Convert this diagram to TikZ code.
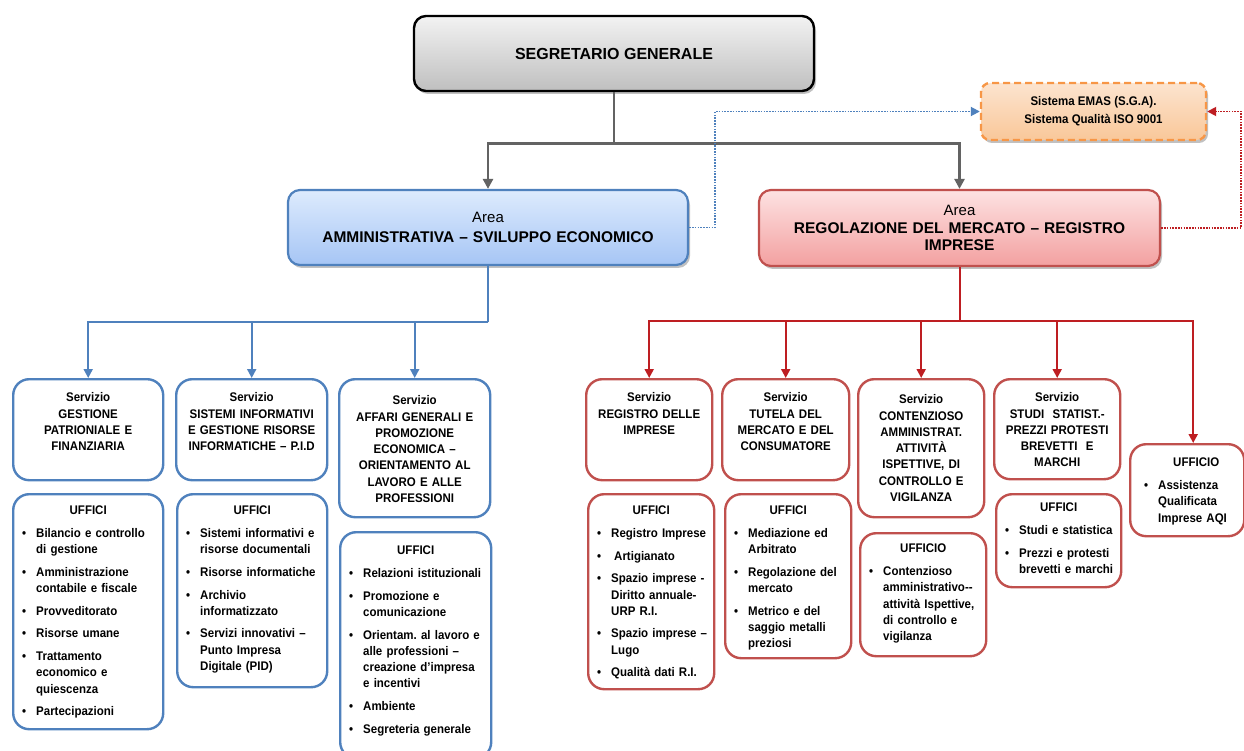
\documentclass[tikz,border=0pt]{standalone}
\usepackage{fontspec}
\setmainfont{Liberation Sans}
\newfontfamily\nrw[FakeStretch=0.92]{Liberation Sans}
\usepackage{enumitem}
\usetikzlibrary{arrows.meta,shadows,calc}
\frenchspacing
\definecolor{blueB}{HTML}{4F81BD}
\definecolor{redB}{HTML}{C0504D}
\definecolor{redA}{HTML}{BE1E22}
\definecolor{grayA}{HTML}{636363}
\definecolor{orB}{HTML}{F79646}
\newcommand{\ulist}[2]{{\centering\rule{0pt}{10pt}#1\par}%
\begin{itemize}[label=\textbullet,leftmargin=18pt,labelsep=10pt,topsep=6.5pt,itemsep=6.3pt,parsep=0pt,partopsep=0pt]#2\end{itemize}}
\tikzset{
  shd/.style={drop shadow={shadow xshift=2pt,shadow yshift=-3pt,opacity=0.35,fill=black!70}},
  sgbox/.style={draw=black,line width=2.4pt,rounded corners=12pt,top color=black!5,bottom color=black!25,shd,
    font={\bfseries\fontsize{16}{19}\selectfont},align=center},
  areaL/.style={draw=blueB,line width=2.2pt,rounded corners=12pt,top color={rgb,255:red,221;green,235;blue,253},
    bottom color={rgb,255:red,166;green,197;blue,245},shd,align=center,font={\fontsize{15}{19.5}\selectfont}},
  areaR/.style={draw=redB,line width=2.2pt,rounded corners=12pt,top color={rgb,255:red,253;green,226;blue,226},
    bottom color={rgb,255:red,243;green,160;blue,160},shd,align=center,font={\fontsize{15}{17.5}\selectfont}},
  emasbox/.style={draw=orB,line width=2.4pt,dash pattern=on 7pt off 4pt,rounded corners=9pt,
    top color={rgb,255:red,252;green,228;blue,207},bottom color={rgb,255:red,249;green,199;blue,153},shd,
    align=center,font={\nrw\bfseries\fontsize{12.5}{18}\selectfont}},
  bsv/.style={draw=blueB,line width=2.4pt,rounded corners=16pt,fill=white,anchor=north west,inner sep=0pt},
  rsv/.style={draw=redB,line width=2.4pt,rounded corners=16pt,fill=white,anchor=north west,inner sep=0pt},
  svtxt/.style={inner sep=0pt,anchor=north,align=center,font={\nrw\bfseries\fontsize{12.5}{16.3}\selectfont}},
  lstxt/.style={inner sep=0pt,anchor=north,align=left,font={\nrw\bfseries\fontsize{12.5}{16.3}\selectfont}},
  garrow/.style={draw=grayA,line width=2.8pt,-{Triangle[length=10pt,width=10pt]}},
  barrow/.style={draw=blueB,line width=2pt,-{Triangle[length=9pt,width=9pt]}},
  rarrow/.style={draw=redA,line width=2pt,-{Triangle[length=9pt,width=9pt]}},
  bline/.style={draw=blueB,line width=2pt},
  rline/.style={draw=redA,line width=2pt},
  bdot/.style={draw=blueB,line width=1.8pt,dash pattern=on 1.6pt off 1.2pt,-{Triangle[length=9pt,width=9pt]}},
  rdot/.style={draw=redA,line width=1.8pt,dash pattern=on 1.6pt off 1.2pt,-{Triangle[length=9pt,width=9pt]}},
}
\begin{document}
\begin{tikzpicture}[x=1pt,y=-1pt]
\useasboundingbox (0,0) rectangle (1244,751);
% top level
\node[sgbox,minimum width=400pt,minimum height=75pt] (sg) at (614,53.5) {SEGRETARIO GENERALE};
\node[emasbox,minimum width=225pt,minimum height=57pt] (emas) at (1093.5,111.5) {Sistema EMAS (S.G.A).\\Sistema Qualità ISO 9001};
\node[areaL,minimum width=400pt,minimum height=75pt,text width=390pt] (aa) at (488,227.5) {Area\\{\bfseries\fontsize{15.5}{19.5}\selectfont AMMINISTRATIVA – SVILUPPO ECONOMICO}};
\node[areaR,minimum width=401pt,minimum height=76pt,text width=390pt] (ar) at (959.5,228) {Area\\{\bfseries\fontsize{15.5}{17.5}\selectfont REGOLAZIONE DEL MERCATO – REGISTRO\\IMPRESE}};
% blue services
\node[bsv,minimum width=150pt,minimum height=101pt] (s1) at (12,378) {};
\node[bsv,minimum width=151pt,minimum height=101pt] (s2) at (175,378) {};
\node[bsv,minimum width=151pt,minimum height=138pt] (s3) at (338,378) {};
\node[svtxt,text width=146pt] (s1t) at ([yshift=-13.5pt]s1.north) {\rule{0pt}{10pt}Servizio\\GESTIONE\\PATRIONIALE E\\FINANZIARIA};
\node[svtxt,text width=147pt] (s2t) at ([yshift=-13.5pt]s2.north) {\rule{0pt}{10pt}Servizio\\SISTEMI INFORMATIVI\\E GESTIONE RISORSE\\INFORMATICHE – P.I.D};
\node[svtxt,text width=147pt] (s3t) at ([yshift=-16.5pt]s3.north) {\rule{0pt}{10pt}Servizio\\AFFARI GENERALI E\\PROMOZIONE\\ECONOMICA –\\ORIENTAMENTO AL\\LAVORO E ALLE\\PROFESSIONI};
% blue uffici
\node[bsv,minimum width=150pt,minimum height=235pt] (u1) at (12,493) {};
\node[bsv,minimum width=150pt,minimum height=193pt] (u2) at (176,493) {};
\node[bsv,minimum width=151pt,minimum height=226pt] (u3) at (339,531) {};
\node[lstxt,text width=140pt] (u1t) at ([yshift=-11.5pt]u1.north) {\ulist{UFFICI}{%
 \item Bilancio e controllo\\di gestione
 \item Amministrazione\\contabile e fiscale
 \item Provveditorato
 \item Risorse umane
 \item Trattamento\\economico e\\quiescenza
 \item Partecipazioni}};
\node[lstxt,text width=140pt] (u2t) at ([yshift=-11.5pt]u2.north) {\ulist{UFFICI}{%
 \item Sistemi informativi e\\risorse documentali
 \item Risorse informatiche
 \item Archivio\\informatizzato
 \item Servizi innovativi –\\Punto Impresa\\Digitale (PID)}};
\node[lstxt,text width=141pt] (u3t) at ([yshift=-13.5pt]u3.north) {\ulist{UFFICI}{%
 \item Relazioni istituzionali
 \item Promozione e\\comunicazione
 \item Orientam. al lavoro e\\alle professioni –\\creazione d’impresa\\e incentivi
 \item Ambiente
 \item Segreteria generale}};
% red services
\node[rsv,minimum width=126pt,minimum height=101pt] (r1) at (585,378) {};
\node[rsv,minimum width=127pt,minimum height=101pt] (r2) at (721,378) {};
\node[rsv,minimum width=126pt,minimum height=138pt] (r3) at (857,378) {};
\node[rsv,minimum width=126pt,minimum height=100pt] (r4) at (993,378) {};
\node[svtxt,text width=122pt] (r1t) at ([yshift=-13.5pt]r1.north) {\rule{0pt}{10pt}Servizio\\REGISTRO DELLE\\IMPRESE};
\node[svtxt,text width=123pt] (r2t) at ([yshift=-13.5pt]r2.north) {\rule{0pt}{10pt}Servizio\\TUTELA DEL\\MERCATO E DEL\\CONSUMATORE};
\node[svtxt,text width=122pt] (r3t) at ([yshift=-15.5pt]r3.north) {\rule{0pt}{10pt}Servizio\\CONTENZIOSO\\AMMINISTRAT.\\ATTIVITÀ\\ISPETTIVE, DI\\CONTROLLO E\\VIGILANZA};
\node[svtxt,text width=122pt] (r4t) at ([yshift=-13.5pt]r4.north) {\rule{0pt}{10pt}Servizio\\STUDI\ \ STATIST.-\\PREZZI PROTESTI\\BREVETTI\ \ E\\MARCHI};
% red uffici
\node[rsv,minimum width=126pt,minimum height=195pt] (ru1) at (587,493) {};
\node[rsv,minimum width=126pt,minimum height=164pt] (ru2) at (724,493) {};
\node[rsv,minimum width=126pt,minimum height=123pt] (ru3) at (859,532) {};
\node[rsv,minimum width=125pt,minimum height=93pt] (ru4) at (995,493) {};
\node[rsv,minimum width=114pt,minimum height=92pt] (ru5) at (1129,443) {};
\node[lstxt,text width=116pt] (ru1t) at ([yshift=-11.5pt]ru1.north) {\ulist{UFFICI}{%
 \item Registro Imprese
 \item \hspace{3pt}Artigianato
 \item Spazio imprese -\\Diritto annuale-\\URP R.I.
 \item Spazio imprese –\\Lugo
 \item Qualità dati R.I.}};
\node[lstxt,text width=116pt] (ru2t) at ([yshift=-11.5pt]ru2.north) {\ulist{UFFICI}{%
 \item Mediazione ed\\Arbitrato
 \item Regolazione del\\mercato
 \item Metrico e del\\saggio metalli\\preziosi}};
\node[lstxt,text width=116pt] (ru3t) at ([yshift=-10.5pt]ru3.north) {\ulist{UFFICIO}{%
 \item Contenzioso\\amministrativo-{}-\\attività Ispettive,\\di controllo e\\vigilanza}};
\node[lstxt,text width=115pt] (ru4t) at ([yshift=-8.5pt]ru4.north) {\ulist{UFFICI}{%
 \item Studi e statistica
 \item Prezzi e protesti\\brevetti e marchi}};
\node[lstxt,text width=112pt] (ru5t) at ([xshift=9pt,yshift=-13.5pt]ru5.north) {\ulist{UFFICIO}{%
 \item Assistenza\\Qualificata\\Imprese AQI}};
% connectors
\draw[garrow] (sg.south) -- ++(0,51) -| (aa.north);
\draw[garrow] (sg.south) -- ++(0,51) -| (ar.north);
\draw[bdot] (aa.east) -- ++(26,0) |- (emas.west);
\draw[rdot] (ar.east) -- ++(80,0) |- (emas.east);
\coordinate (bj) at (488,322);
\draw[bline] (aa.south) -- (bj);
\draw[barrow] (bj) -| (s1.north);
\draw[barrow] (bj) -| (s2.north);
\draw[barrow] (bj) -| (s3.north);
\coordinate (rj) at (959.5,321);
\draw[rline] (ar.south) -- (rj);
\draw[rarrow] (rj) -| (r1.north);
\draw[rarrow] (rj) -| (r2.north);
\draw[rarrow] (rj) -| (r3.north);
\draw[rarrow] (rj) -| (r4.north);
\draw[rarrow] (rj) -| ([xshift=6pt]ru5.north);
\end{tikzpicture}
\end{document}
